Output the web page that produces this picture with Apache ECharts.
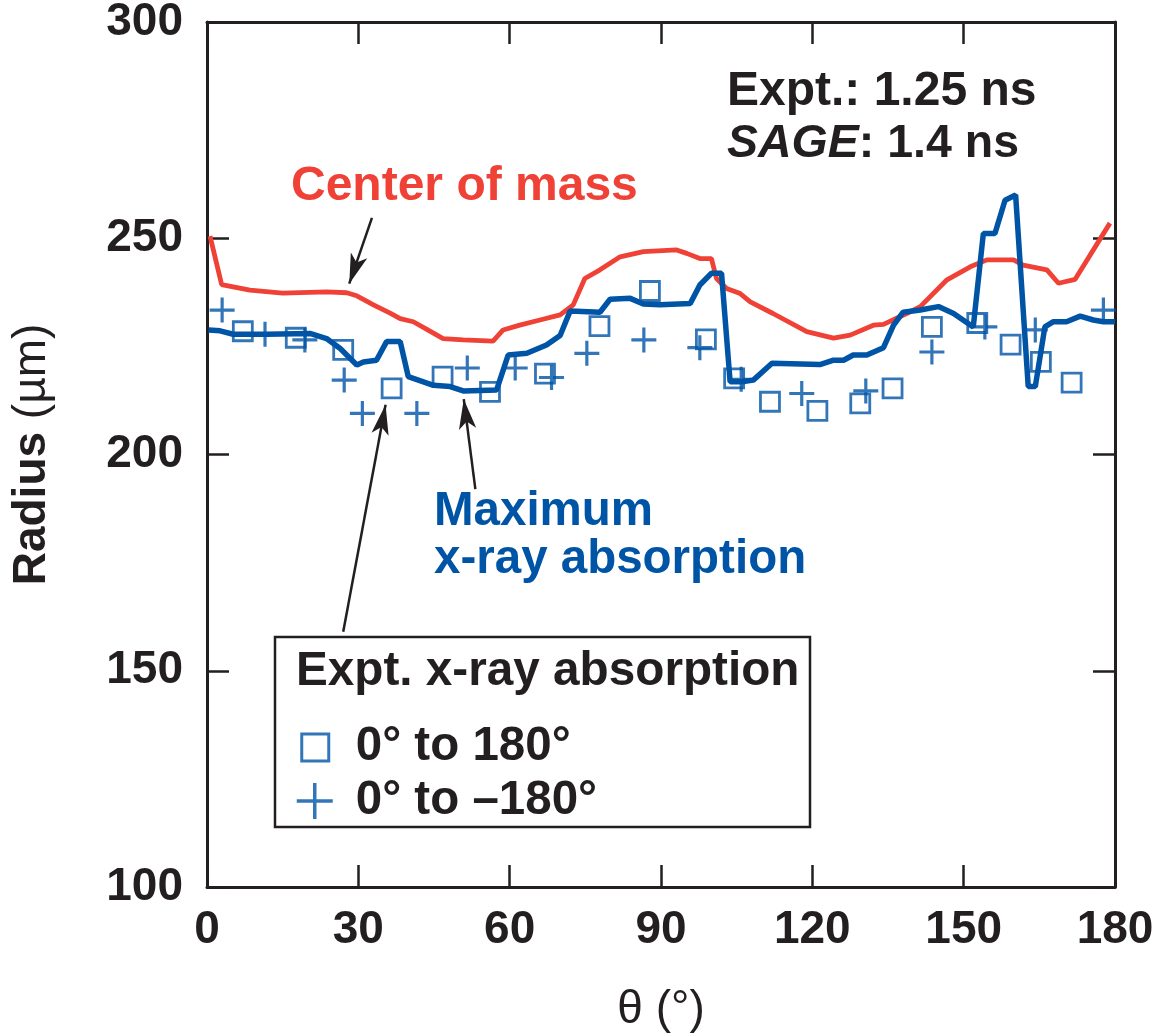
<!DOCTYPE html>
<html>
<head>
<meta charset="utf-8">
<script src="https://cdn.jsdelivr.net/npm/echarts@6/dist/echarts.min.js"></script>
<style>
html,body{margin:0;padding:0;background:#fff;}
#chart{width:1156px;height:1035px;}
</style>
</head>
<body>
<div id="chart"></div>
<script>
// ---- Data (theta in degrees, radius in micrometres) ----
const centerOfMass = [[0.6,250.5],[2.9,239.3],[8.5,238.0],[15,237.3],[23.7,237.6],[27.7,237.4],[29.7,236.7],[33,234.6],[36.3,232.7],[38.3,231.4],[40.9,230.7],[43.5,229.0],[46.8,226.8],[50.8,226.5],[56.7,226.2],[58.7,228.8],[62,229.9],[66,231.1],[70,232.3],[72.6,234.6],[74.9,240.7],[77.9,242.7],[81.9,245.7],[86.5,246.9],[93.1,247.3],[95.1,246.5],[97.7,245.3],[100,245.3],[101,240.7],[103,238.4],[105.7,237.2],[107.7,235.3],[112.2,232.6],[118.9,228.4],[124.2,226.9],[127.5,227.6],[132.1,229.9],[134.1,230.1],[138.7,232.6],[141.4,234.2],[146.6,240.3],[151.3,243.4],[154.6,245],[159.9,245],[161.8,243.8],[166.5,242.7],[168.8,239.6],[172.1,240.5],[179,253.5]];
const maxAbsorption = [[0.3,228.8],[2.6,228.6],[5.2,227.8],[11.8,227.8],[20.4,228],[23.7,226.8],[26.4,224.5],[29.7,220.7],[31,221.4],[33.6,221.8],[35.6,226.1],[38.3,226.1],[39.9,218],[44.9,216],[48.2,215.7],[50.8,214.7],[57.4,214.9],[59.7,223],[63.4,223.4],[67.3,225.3],[70,227.5],[72,233.2],[77.9,232.9],[79.9,235.9],[83.9,236.1],[86.5,234.8],[89.8,234.6],[95.8,234.9],[97.7,239.2],[100,241.9],[102,241.9],[103.7,216.8],[106,216.8],[108.3,217.2],[112,221.1],[121.5,220.8],[124.2,221.8],[126.2,221.8],[128.1,223],[130.8,223],[134.1,224.7],[136.1,229.9],[138,232.9],[141.4,233.4],[145,234.2],[148,232.6],[151.9,229.5],[153.9,251.1],[156.2,251.1],[158.2,258.8],[160.3,260],[162.8,215.7],[164.2,215.7],[166.1,229.5],[167.8,230.7],[170.4,230.7],[173.1,232],[175.7,231.1],[177.7,230.7],[180,230.7]];
const expt0to180 = [[7.1,228.5],[17.6,227],[27,224.2],[36.6,215.3],[46.7,218],[56.1,214.5],[67,218.7],[77.8,229.7],[87.8,237.8],[98.9,226.6],[104.5,217.6],[111.6,212.2],[121,210.1],[129.5,211.8],[135.9,215.3],[143.7,229.5],[152.7,230.4],[159.3,225.4],[165.3,221.4],[171.4,216.6]];
const expt0toMinus180 = [[3.0,233.4],[11.5,227.8],[19.4,226.5],[27.2,217.2],[30.8,209.5],[41.6,209.5],[51.6,220],[61.1,220],[68.3,217.8],[75.3,223.4],[86.6,226.5],[97.7,224.7],[105.9,217.4],[117.9,214.1],[130.6,214.7],[143.7,223.7],[154.2,229.5],[164.2,228.8],[177.7,233.4]];
const xTicks = [0,30,60,90,120,150,180];
const yTicks = [100,150,200,250,300];
// annotation arrows: [start, tip] in data coordinates
const arrows = [
  [[32.7,254.7],[28.2,239.5]],
  [[53.2,192.0],[50.9,212.8]],
  [[27.0,159.0],[35.4,211.5]]
];

const RED = '#EF4136', BLUE = '#0054A6', INK = '#231F20';
const FONT = 'Liberation Sans, Arial, Helvetica, sans-serif';

const chart = echarts.init(document.getElementById('chart'), null, {renderer:'canvas'});

function axisCommon(extra){
  return Object.assign({
    type:'value',
    axisLine:{show:true, onZero:false, lineStyle:{color:INK, width:3}},
    axisTick:{show:true, inside:true, length:22, lineStyle:{color:INK, width:2.5}},
    splitLine:{show:false}
  }, extra);
}

const option = {
  animation:false,
  backgroundColor:'#fff',
  grid:{left:207, right:41, top:22, bottom:148, containLabel:false, outerBoundsMode:'none'},
  xAxis:[
    axisCommon({min:xTicks[0], max:xTicks[xTicks.length-1], interval:30, position:'bottom',
      axisLabel:{show:true, margin:20, fontSize:46, fontWeight:'bold', color:INK, fontFamily:FONT,
        formatter:v=>xTicks.includes(v)?String(v):''},
      name:'θ (°)', nameLocation:'middle', nameGap:100,
      nameTextStyle:{fontSize:46, color:INK, fontFamily:FONT}}),
    axisCommon({min:0, max:180, interval:30, position:'top', axisLabel:{show:false}})
  ],
  yAxis:[
    axisCommon({min:yTicks[0], max:yTicks[yTicks.length-1], interval:50, position:'left',
      axisLabel:{show:true, margin:24, fontSize:46, fontWeight:'bold', color:INK, fontFamily:FONT},
      name:'{b|Radius} {n|(µm)}', nameLocation:'middle', nameGap:152, nameRotate:90,
      nameTextStyle:{fontSize:46, color:INK, fontFamily:FONT,
        rich:{b:{fontSize:46, fontWeight:'bold', color:INK, fontFamily:FONT},
              n:{fontSize:46, fontWeight:'normal', color:INK, fontFamily:FONT}}}}),
    axisCommon({min:100, max:300, interval:50, position:'right', axisLabel:{show:false}})
  ],
  legend:{
    show:true, orient:'vertical', left:290, top:718,
    itemWidth:36, itemHeight:36, itemGap:6, selectedMode:false,
    textStyle:{fontSize:47.5, fontWeight:'bold', color:INK, fontFamily:FONT, lineHeight:47, padding:[0,0,0,18]},
    data:[
      {name:'0° to 180°', icon:'path://M0,0M36,36M5,5H32V32H5Z', itemStyle:{color:'rgba(0,0,0,0)', borderColor:BLUE, borderWidth:3}},
      {name:'0° to –180°', icon:'path://M0,0M36,36M18,0V36M0,18H36', itemStyle:{color:'rgba(0,0,0,0)', borderColor:BLUE, borderWidth:3.5}}
    ]
  },
  series:[
    {type:'line', name:'Center of mass', data:centerOfMass, showSymbol:false, symbol:'none',
     lineStyle:{color:RED, width:4.8}, z:3, silent:true,
     markLine:{silent:true, symbol:['none','arrow'], symbolSize:[13,30],
       lineStyle:{color:INK, width:2.5, type:'solid'}, label:{show:false},
       data:arrows.map(a=>[{coord:a[0]},{coord:a[1]}])}},
    {type:'line', name:'Maximum x-ray absorption', data:maxAbsorption, showSymbol:false, symbol:'none',
     lineStyle:{color:BLUE, width:5.5}, z:4, silent:true},
    {type:'scatter', name:'0° to 180°', data:expt0to180, symbol:'rect', symbolSize:19,
     itemStyle:{color:'rgba(0,0,0,0)', borderColor:BLUE, borderWidth:2.8}, z:5, silent:true},
    {type:'scatter', name:'0° to –180°', data:expt0toMinus180, symbol:'path://M10,0V20M0,10H20', symbolSize:25,
     itemStyle:{color:'rgba(0,0,0,0)', borderColor:BLUE, borderWidth:3.2}, z:5, silent:true}
  ],
  graphic:[
    {type:'rect', shape:{x:275, y:637, width:535, height:190}, style:{fill:'#fff', stroke:INK, lineWidth:2.5}, z:1},
    {type:'text', x:296, y:672, style:{text:'Expt. x-ray absorption', fontSize:47.7, fontWeight:'bold', fill:INK, fontFamily:FONT, verticalAlign:'middle'}, z:10},
    {type:'text', x:291, y:187, style:{text:'Center of mass', fontSize:48, fontWeight:'bold', fill:RED, fontFamily:FONT, verticalAlign:'middle'}, z:10},
    {type:'text', x:434, y:512, style:{text:'Maximum', fontSize:47.5, fontWeight:'bold', fill:BLUE, fontFamily:FONT, verticalAlign:'middle'}, z:10},
    {type:'text', x:434, y:560, style:{text:'x-ray absorption', fontSize:47.5, fontWeight:'bold', fill:BLUE, fontFamily:FONT, verticalAlign:'middle'}, z:10},
    {type:'text', x:727, y:92, style:{text:'Expt.: 1.25 ns', fontSize:48, fontWeight:'bold', fill:INK, fontFamily:FONT, verticalAlign:'middle'}, z:10},
    {type:'text', x:727, y:144, style:{text:'{i|SAGE}{b|: 1.4 ns}', verticalAlign:'middle',
      rich:{i:{fontSize:46.5, fontWeight:'bold', fontStyle:'italic', fill:INK, fontFamily:FONT},
            b:{fontSize:46.5, fontWeight:'bold', fill:INK, fontFamily:FONT}}}, z:10}
  ]
};
chart.setOption(option);
</script>
</body>
</html>
